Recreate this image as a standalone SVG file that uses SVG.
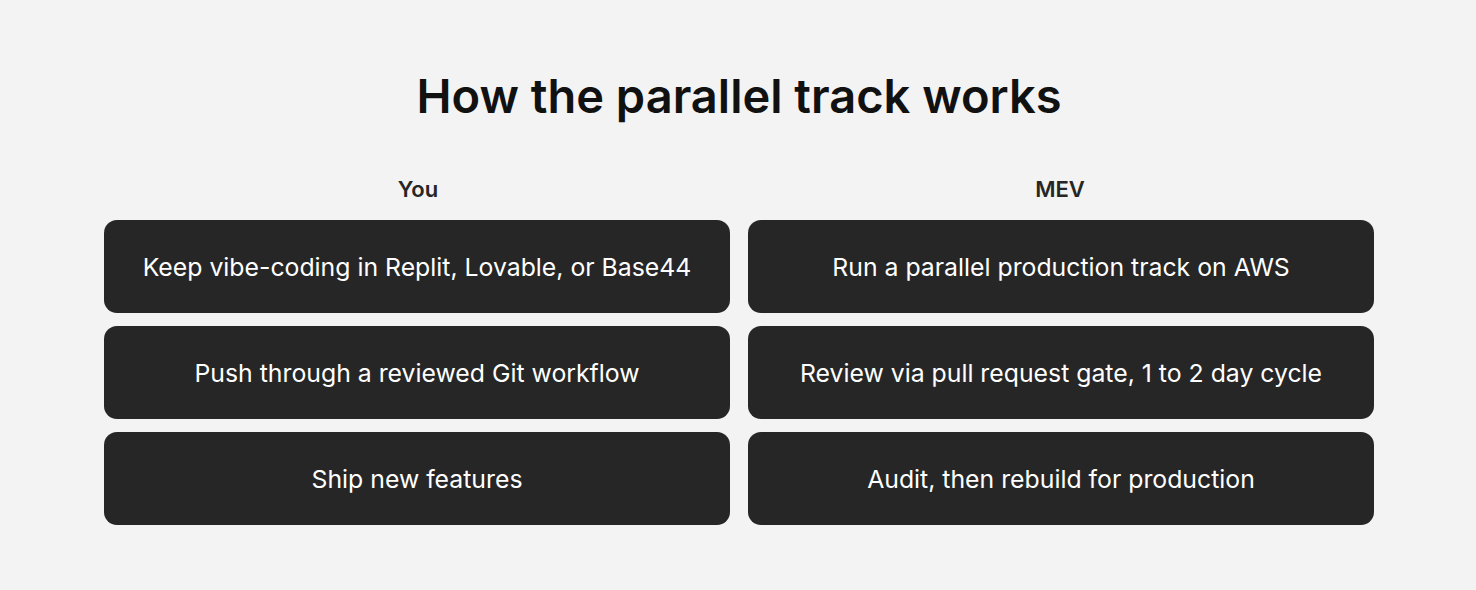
<svg xmlns="http://www.w3.org/2000/svg" width="1476" height="590" viewBox="0 0 1476 590">
<style>
.box{fill:#262626}
.t{font-family:Inter,"Noto Sans",sans-serif;fill:#ffffff;font-size:24.8px;text-anchor:middle;dominant-baseline:central}
.h{font-family:Inter,"Noto Sans",sans-serif;fill:#262626;font-size:22px;font-weight:600;text-anchor:middle}
</style>
<rect width="1476" height="590" fill="#f3f3f3"/>
<text x="739" y="113" font-family="Inter,'Noto Sans',sans-serif" font-size="47" font-weight="600" text-anchor="middle" fill="#111">How the parallel track works</text>
<text class="h" x="418" y="197">You</text>
<text class="h" x="1060" y="197">MEV</text>
<g id="you1"><rect class="box" x="104" y="220" width="626" height="93" rx="13"/><text class="t" x="417" y="267">Keep vibe-coding in Replit, Lovable, or Base44</text></g>
<g id="you2"><rect class="box" x="104" y="326" width="626" height="93" rx="13"/><text class="t" x="417" y="373">Push through a reviewed Git workflow</text></g>
<g id="you3"><rect class="box" x="104" y="432" width="626" height="93" rx="13"/><text class="t" x="417" y="479">Ship new features</text></g>
<g id="mev1"><rect class="box" x="748" y="220" width="626" height="93" rx="13"/><text class="t" x="1061" y="267">Run a parallel production track on AWS</text></g>
<g id="mev2"><rect class="box" x="748" y="326" width="626" height="93" rx="13"/><text class="t" x="1061" y="373">Review via pull request gate, 1 to 2 day cycle</text></g>
<g id="mev3"><rect class="box" x="748" y="432" width="626" height="93" rx="13"/><text class="t" x="1061" y="479">Audit, then rebuild for production</text></g>
<g id="connectors"></g>
</svg>
